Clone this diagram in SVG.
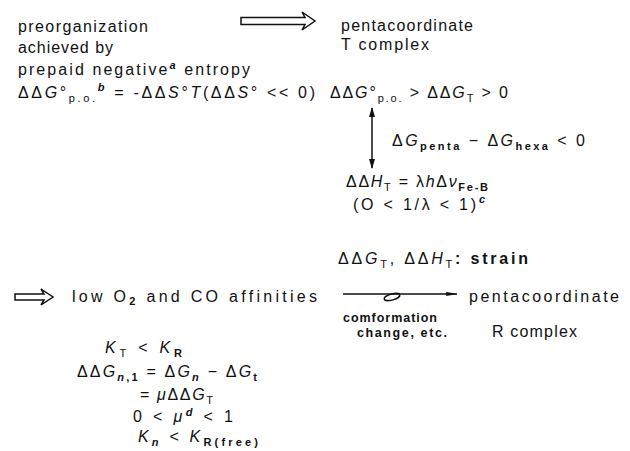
<svg xmlns="http://www.w3.org/2000/svg" width="630" height="451" viewBox="0 0 630 451">
<style>
text{font-family:"Liberation Sans",Arial,sans-serif;font-size:16px;fill:#111}
.i{font-style:italic}
.s{font-size:11px;font-weight:bold}
.r{font-size:11px}
.sm{font-size:12.5px;font-weight:bold}
.ln{fill:none;stroke:#111;stroke-width:1.5}
</style>
<defs>
<marker id="ah" viewBox="0 0 10 6" refX="9" refY="3" markerWidth="10" markerHeight="6" orient="auto-start-reverse" markerUnits="userSpaceOnUse"><path d="M0,0 L10,3 L0,6 Z" fill="#111"/></marker>
<marker id="ahl" viewBox="0 0 14 6" refX="13" refY="3" markerWidth="14" markerHeight="5" orient="auto" markerUnits="userSpaceOnUse"><path d="M0,0.5 L14,3 L0,5.5 Z" fill="#111"/></marker>
</defs>
<g id="connectors">
<polygon class="ln" fill="#fff" points="241,17.5 305,17.5 302,12 315,21 302,30 305,24.5 241,24.5"/>
<polygon class="ln" fill="#fff" points="15,294 44,294 41,289 53,297 41,305 44,300 15,300"/>
<line class="ln" x1="372" y1="108" x2="372" y2="168" marker-start="url(#ah)" marker-end="url(#ah)"/>
<line class="ln" x1="343" y1="294" x2="457" y2="294" marker-end="url(#ahl)"/>
<ellipse class="ln" cx="392" cy="297" rx="8" ry="3" transform="rotate(-15 392 297)"/>
</g>
<g id="preorg">
<text x="18" y="32" textLength="130" lengthAdjust="spacing">preorganization</text>
<text x="18" y="53" textLength="95" lengthAdjust="spacing">achieved by</text>
<text x="18" y="75" textLength="232" lengthAdjust="spacing">prepaid negative<tspan class="s i" dy="-6">a</tspan><tspan dy="6"> entropy</tspan></text>
<text x="18" y="98" textLength="297" lengthAdjust="spacing">ΔΔ<tspan class="i">G</tspan>°<tspan class="r" dy="4">p.o.</tspan><tspan class="s i" dy="-11">b</tspan><tspan dy="7"> = -ΔΔ<tspan class="i">S</tspan>°<tspan class="i">T</tspan>(ΔΔ<tspan class="i">S</tspan>° &lt;&lt; 0)</tspan></text>
</g>
<g id="tcomplex">
<text x="341" y="31" textLength="132" lengthAdjust="spacing">pentacoordinate</text>
<text x="341" y="50" textLength="88" lengthAdjust="spacing">T complex</text>
<text x="330" y="98" textLength="178" lengthAdjust="spacing">ΔΔ<tspan class="i">G</tspan>°<tspan class="r" dy="4">p.o.</tspan><tspan dy="-4"> &gt; ΔΔ<tspan class="i">G</tspan></tspan><tspan class="r" dy="4">T</tspan><tspan dy="-4"> &gt; 0</tspan></text>
</g>
<g id="strain">
<text x="392" y="146" textLength="193" lengthAdjust="spacing">Δ<tspan class="i">G</tspan><tspan class="s" dy="4">penta</tspan><tspan dy="-4"> − Δ<tspan class="i">G</tspan></tspan><tspan class="s" dy="4">hexa</tspan><tspan dy="-4"> &lt; 0</tspan></text>
<text x="346" y="187" textLength="142" lengthAdjust="spacing">ΔΔ<tspan class="i">H</tspan><tspan class="r" dy="4">T</tspan><tspan dy="-4"> = λ<tspan class="i">h</tspan>Δ<tspan class="i">ν</tspan></tspan><tspan class="s" dy="4">Fe-B</tspan></text>
<text x="353" y="210" textLength="132" lengthAdjust="spacing">(O &lt; 1/λ &lt; 1)<tspan class="s i" dy="-7">c</tspan></text>
<text x="338" y="264" textLength="190" lengthAdjust="spacing">ΔΔ<tspan class="i">G</tspan><tspan class="r" dy="4">T</tspan><tspan dy="-4">, ΔΔ<tspan class="i">H</tspan></tspan><tspan class="r" dy="4">T</tspan><tspan dy="-4" font-weight="bold">: strain</tspan></text>
</g>
<g id="affinities">
<text x="72" y="302" textLength="245" lengthAdjust="spacing">low O<tspan class="s" dy="3">2</tspan><tspan dy="-3"> and CO affinities</tspan></text>
<text x="105" y="353" textLength="77" lengthAdjust="spacing"><tspan class="i">K</tspan><tspan class="r" dy="4">T</tspan><tspan dy="-4"> &lt; <tspan class="i">K</tspan></tspan><tspan class="s" dy="4">R</tspan></text>
<text x="77" y="377" textLength="180" lengthAdjust="spacing">ΔΔ<tspan class="i">G</tspan><tspan class="s i" dy="4">n</tspan><tspan class="s">,1</tspan><tspan dy="-4"> = Δ<tspan class="i">G</tspan></tspan><tspan class="s i" dy="4">n</tspan><tspan dy="-4"> − Δ<tspan class="i">G</tspan></tspan><tspan class="s" dy="4">t</tspan></text>
<text x="140" y="400" textLength="73" lengthAdjust="spacing">= <tspan class="i">μ</tspan>ΔΔ<tspan class="i">G</tspan><tspan class="r" dy="4">T</tspan></text>
<text x="133" y="422" textLength="100" lengthAdjust="spacing">0 &lt; <tspan class="i">μ</tspan><tspan class="s i" dy="-6">d</tspan><tspan dy="6"> &lt; 1</tspan></text>
<text x="138" y="442" textLength="120" lengthAdjust="spacing"><tspan class="i">K</tspan><tspan class="s i" dy="4">n</tspan><tspan dy="-4"> &lt; <tspan class="i">K</tspan></tspan><tspan class="s" dy="4">R(free)</tspan></text>
</g>
<g id="conformation">
<text class="sm" x="343" y="322" textLength="94" lengthAdjust="spacing">comformation</text>
<text class="sm" x="357" y="337" textLength="90" lengthAdjust="spacing">change, etc.</text>
</g>
<g id="rcomplex">
<text x="469" y="302" textLength="150" lengthAdjust="spacing">pentacoordinate</text>
<text x="492" y="337" textLength="85" lengthAdjust="spacing">R complex</text>
</g>
</svg>
